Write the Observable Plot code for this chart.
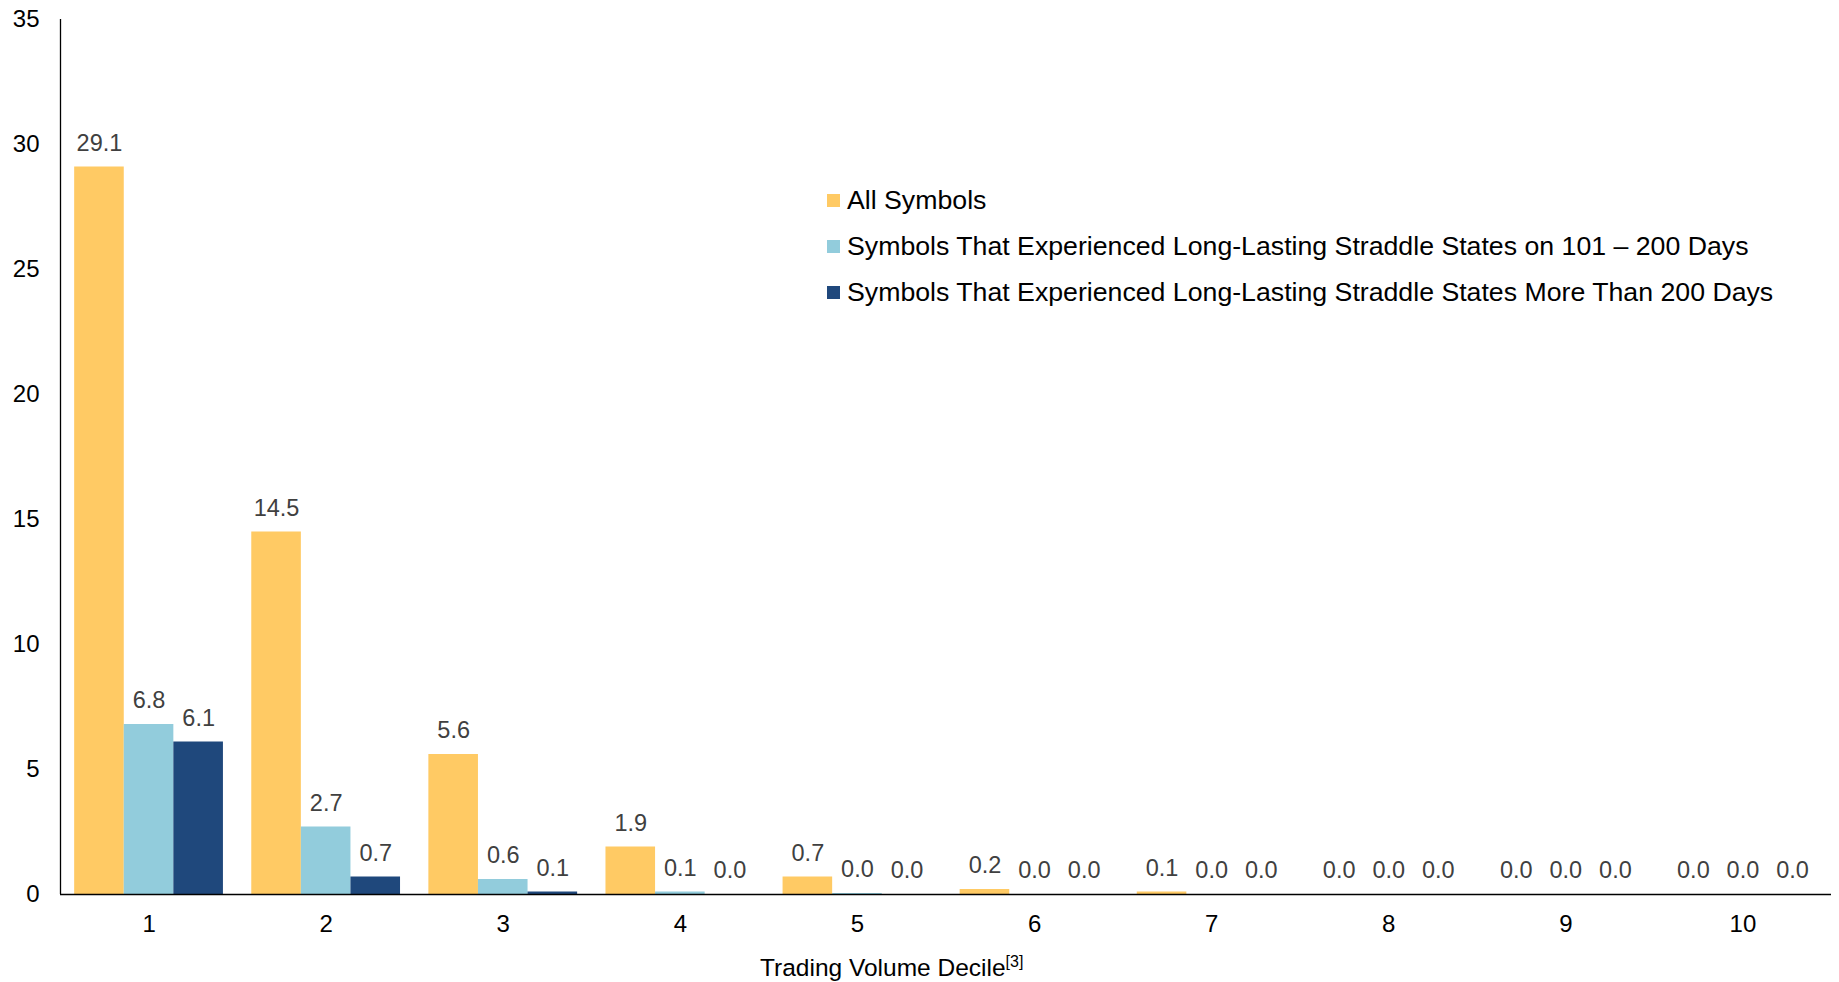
<!DOCTYPE html>
<html>
<head>
<meta charset="utf-8">
<script src="https://cdn.jsdelivr.net/npm/d3@7"></script>
<script src="https://cdn.jsdelivr.net/npm/@observablehq/plot@0.6"></script>
<style>
  html, body { margin: 0; padding: 0; background: #fff; }
  body { font-family: "Liberation Sans", Arial, sans-serif; }
  #wrap { position: relative; width: 1839px; height: 982px; }
  #legend { position: absolute; left: 827px; top: 177px; font-size: 26.7px; color: #000; }
  #legend .row { height: 46px; line-height: 46px; display: flex; align-items: center; white-space: nowrap; }
  #legend .sw { width: 13px; height: 13px; margin-right: 7px; flex: none; }
  #xlabel { position: absolute; left: 760px; top: 945px; font-size: 24.5px; line-height: 46px; color: #000; white-space: nowrap; }
  #xlabel sup { font-size: 16px; vertical-align: 9px; line-height: 0; }
</style>
</head>
<body>
<div id="wrap">
  <div id="chart"></div>
  <div id="legend"></div>
  <div id="xlabel">Trading Volume Decile<sup>[3]</sup></div>
</div>
<script>
const deciles = [1, 2, 3, 4, 5, 6, 7, 8, 9, 10];
const allSymbols = [29.1, 14.5, 5.6, 1.9, 0.7, 0.2, 0.1, 0.0, 0.0, 0.0];
const straddle101to200 = [6.8, 2.7, 0.6, 0.1, 0.04, 0.0, 0.0, 0.0, 0.0, 0.0];
const straddleOver200 = [6.1, 0.7, 0.1, 0.0, 0.0, 0.0, 0.0, 0.0, 0.0, 0.0];
const seriesNames = [
  "All Symbols",
  "Symbols That Experienced Long-Lasting Straddle States on 101 \u2013 200 Days",
  "Symbols That Experienced Long-Lasting Straddle States More Than 200 Days"
];
const seriesColors = ["#FFCA64", "#92CCDC", "#1F487C"];
const yTicks = [0, 5, 10, 15, 20, 25, 30, 35];

const seriesValues = [allSymbols, straddle101to200, straddleOver200];
const groupWidth = 0.84;
const barW = groupWidth / seriesValues.length;
const rows = deciles.flatMap((d, i) => seriesValues.map((vals, k) => ({
  decile: d, k, series: seriesNames[k], value: vals[i]
})));
const left = r => r.decile - groupWidth / 2 + r.k * barW;

const chart = Plot.plot({
  width: 1839,
  height: 945,
  marginLeft: 60,
  marginRight: 8,
  marginTop: 19,
  marginBottom: 51,
  style: { fontFamily: "'Liberation Sans', Arial, sans-serif", fontSize: "24px", color: "#000", background: "#fff" },
  x: { type: "linear", domain: [0.5, 10.5] },
  y: { domain: [0, 35] },
  color: { domain: seriesNames, range: seriesColors },
  marks: [
    Plot.rectY(rows, { x1: left, x2: r => left(r) + barW, y1: 0, y2: "value", fill: "series" }),
    Plot.text(rows, {
      x: r => left(r) + barW / 2, y: "value", text: r => r.value.toFixed(1),
      dy: -24, fill: "#404040", fontSize: 23.5
    }),
    Plot.axisY({ ticks: yTicks, tickSize: 0, tickPadding: 21, label: null, fontSize: 24, tickFormat: d => String(d) }),
    Plot.axisX({ ticks: deciles, tickSize: 0, tickPadding: 20, label: null, fontSize: 24, tickFormat: d => String(d) }),
    Plot.ruleY([0], { stroke: "#000", strokeWidth: 1.6 }),
    Plot.ruleX([0.5], { stroke: "#000", strokeWidth: 1.3 })
  ]
});
document.getElementById("chart").appendChild(chart);

const legend = document.getElementById("legend");
seriesNames.forEach((name, i) => {
  const row = document.createElement("div");
  row.className = "row";
  const sw = document.createElement("span");
  sw.className = "sw";
  sw.style.background = seriesColors[i];
  const t = document.createElement("span");
  t.textContent = name;
  row.appendChild(sw);
  row.appendChild(t);
  legend.appendChild(row);
});
</script>
</body>
</html>
